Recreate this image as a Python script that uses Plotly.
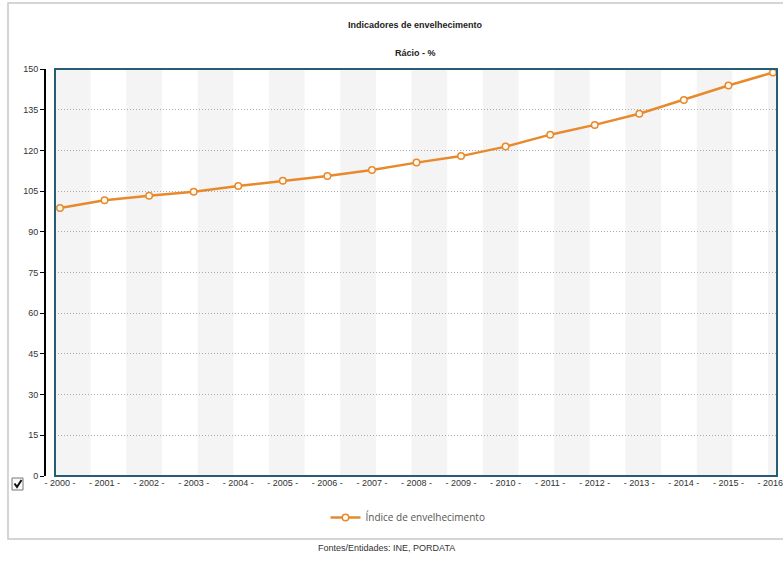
import plotly.graph_objects as go

# ---- data ----
years = list(range(2000, 2017))
indice_envelhecimento = [98.8, 101.6, 103.3, 104.8, 106.9, 108.8, 110.6, 112.8, 115.5,
                         117.9, 121.4, 125.8, 129.4, 133.5, 138.6, 143.9, 148.7]
tick_labels = [f"- {y} -" for y in years]
y_ticks = list(range(0, 151, 15))

title_main = "Indicadores de envelhecimento"
title_sub = "Rácio - %"
series_name = "Índice de envelhecimento"
source_text = "Fontes/Entidades: INE, PORDATA"

# ---- layout geometry (pixels) ----
W, H = 783, 562
ML, MR, MT, MB = 45, 6, 69, 86
PW = W - ML - MR
PH = H - MT - MB

def px(x):  # pixel x -> paper x
    return (x - ML) / PW

def py(y):  # pixel y -> paper y
    return (H - MB - y) / PH

x_start = years[0] - 0.112
x_end = years[-1] + 0.09

orange = "#e8892b"
fig = go.Figure()
fig.add_trace(go.Scatter(
    x=years, y=indice_envelhecimento, mode="lines+markers", name=series_name,
    line=dict(color=orange, width=2.5),
    marker=dict(size=6.5, color="#fffbf0", line=dict(color=orange, width=1.5)),
))

shapes = []
# alternating background bands
band_w = 0.8
b = x_start
while b < x_end:
    shapes.append(dict(type="rect", xref="x", yref="y domain", x0=b, x1=min(b + band_w, x_end),
                       y0=0, y1=1, fillcolor="#f4f4f4", line=dict(width=0), layer="below"))
    b += 2 * band_w
# plot border
shapes.append(dict(type="rect", xref="x domain", yref="y domain", x0=0, x1=1, y0=0, y1=1,
                   line=dict(color="#255e74", width=2), layer="above"))
# outer frame
shapes.append(dict(type="rect", xref="paper", yref="paper", x0=px(8), x1=px(792),
                   y0=py(539), y1=py(3), line=dict(color="#c8c8c8", width=1.5), layer="below"))
# checkbox
shapes.append(dict(type="rect", xref="paper", yref="paper", x0=px(12), x1=px(23),
                   y0=py(490), y1=py(478), line=dict(color="#777777", width=1),
                   fillcolor="#fafafa"))
check_pts = [(14.5, 483.5), (17, 487), (21.5, 480)]
path = "M " + " L ".join(f"{px(a):.5f},{py(c):.5f}" for a, c in check_pts)
shapes.append(dict(type="path", xref="paper", yref="paper", path=path,
                   line=dict(color="#111111", width=2)))

def ann(text, x, y, size=9, color="#222"):
    return dict(text=text, xref="paper", yref="paper", x=px(x), y=py(y),
                xanchor="center", yanchor="middle", showarrow=False,
                font=dict(family="Liberation Sans, Arial", size=size, color=color))

annotations = [
    ann(f"<b>{title_main}</b>", 416, 25),
    ann(f"<b>{title_sub}</b>", 416, 53),
    ann(source_text, 386, 548, color="#333"),
]

fig.update_layout(
    width=W, height=H,
    margin=dict(l=ML, r=MR, t=MT, b=MB, pad=0, autoexpand=False),
    paper_bgcolor="white", plot_bgcolor="white",
    showlegend=True,
    legend=dict(orientation="h", x=px(408), xanchor="center", y=py(503), yanchor="top",
                font=dict(family="Open Sans", size=10, color="#555"), itemwidth=30,
                bgcolor="rgba(0,0,0,0)"),
    shapes=shapes, annotations=annotations,
    xaxis=dict(domain=[px(55), 1], range=[x_start, x_end], tickmode="array",
               tickvals=years, ticktext=tick_labels, showgrid=False, zeroline=False,
               showline=False, ticks="", ticklen=0, ticklabeloverflow="allow",
               automargin=False, tickangle=0,
               tickfont=dict(family="Liberation Sans, Arial", size=9, color="#333")),
    yaxis=dict(range=[0, 150], tickvals=y_ticks, anchor="free", position=0,
               showline=True, linecolor="black", linewidth=2, automargin=False,
               ticks="outside", ticklen=4, tickcolor="black", tickwidth=1,
               showgrid=True, gridcolor="#aaaaaa", griddash="1px,2px", gridwidth=1,
               zeroline=False,
               tickfont=dict(family="Liberation Sans, Arial", size=9, color="#333")),
)

fig.write_html("out.html")
